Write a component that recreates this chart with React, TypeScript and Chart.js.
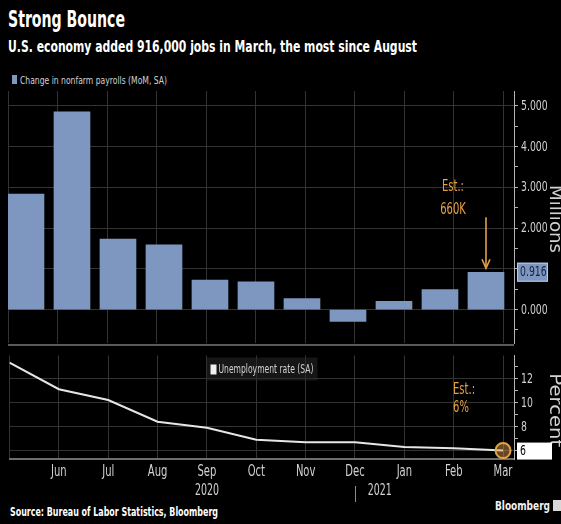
import React, { useEffect, useRef } from 'react';
import { Chart, registerables } from 'chart.js';

Chart.register(...registerables);

// ---------- text ----------
const title = 'Strong Bounce';
const subtitle = 'U.S. economy added 916,000 jobs in March, the most since August';
const payrollLabel = 'Change in nonfarm payrolls (MoM, SA)';
const unemploymentLabel = 'Unemployment rate (SA)';
const sourceText = 'Source: Bureau of Labor Statistics, Bloomberg';
const brandText = 'Bloomberg';
const payrollAxisTitle = 'Millions';
const unemploymentAxisTitle = 'Percent';

// ---------- data ----------
const months = ['May', 'Jun', 'Jul', 'Aug', 'Sep', 'Oct', 'Nov', 'Dec', 'Jan', 'Feb', 'Mar'];
const payrolls = [2.83, 4.85, 1.73, 1.59, 0.72, 0.68, 0.27, -0.29, 0.2, 0.49, 0.916];
const unemployment = [13.3, 11.1, 10.2, 8.4, 7.9, 6.9, 6.7, 6.7, 6.3, 6.2, 6.0];
const payrollTicks = [-0.5, 0, 0.5, 1, 1.5, 2, 2.5, 3, 3.5, 4, 4.5, 5];
const unemploymentTicks = [6, 7, 8, 9, 10, 11, 12, 13];
const yearLabels = ['2020', '2021'];
const yearPositions = [4, 7.5];
const yearBreakAt = 7;
const payrollEstimate = ['Est.:', '660K'];
const unemploymentEstimate = ['Est.:', '6%'];

// ---------- styles ----------
const NARROW = '"DejaVu Sans Condensed", "DejaVu Sans", sans-serif';
const WIDE = '"DejaVu Sans", "Noto Sans", sans-serif';
const BAR = '#7d97c1';
const GRID = '#333333';
const AXIS = '#b4b4b4';
const TXT = '#d2d2d2';
const ORANGE = '#e3a046';
const SQUEEZE = 0.74;

const lastIdx = payrolls.length - 1;

const payrollTickLabel = (n: number) => {
  if (!Number.isInteger(n)) return '';
  if (Math.abs(n - payrolls[lastIdx]) < 0.3) return '';
  return n.toFixed(3);
};
const unemploymentTickLabel = (n: number) => {
  if (n % 2 !== 0) return '';
  if (Math.abs(n - unemployment[lastIdx]) < 1) return '';
  return String(n);
};

const noPad = (s: any) => {
  s.paddingTop = 0;
  s.paddingBottom = 0;
  s.paddingLeft = 0;
  s.paddingRight = 0;
};

function squeezed(ctx: CanvasRenderingContext2D, text: string, x: number, y: number, factor = SQUEEZE) {
  if (!text) return;
  const w = ctx.measureText(text).width;
  ctx.fillText(text, x, y, w * factor);
}

function axisTitle(ctx: CanvasRenderingContext2D, text: string, cx: number, cy: number, length: number) {
  ctx.save();
  ctx.translate(cx, cy);
  ctx.rotate(Math.PI / 2);
  ctx.font = `17px ${WIDE}`;
  const w = ctx.measureText(text).width;
  ctx.scale(length / w, 1);
  ctx.fillStyle = TXT;
  ctx.textAlign = 'center';
  ctx.textBaseline = 'middle';
  ctx.fillText(text, 0, 0);
  ctx.restore();
}

function yTickLabels(ctx: CanvasRenderingContext2D, scale: any, fmt: (n: number) => string) {
  ctx.save();
  ctx.fillStyle = TXT;
  ctx.font = `14px ${NARROW}`;
  ctx.textAlign = 'left';
  ctx.textBaseline = 'middle';
  scale.ticks.forEach((t: any) => {
    squeezed(ctx, fmt(t.value), scale.left + 7, scale.getPixelForValue(t.value) + 0.5);
  });
  ctx.restore();
}

const topOverlay = {
  id: 'topOverlay',
  afterDraw(chart: any) {
    const { ctx, chartArea, scales } = chart;
    const bar = chart.getDatasetMeta(0).data[lastIdx];
    const lastVal = payrolls[lastIdx];
    const y = scales.y.getPixelForValue(lastVal);
    yTickLabels(ctx, scales.y, payrollTickLabel);
    axisTitle(ctx, payrollAxisTitle, 554, (chartArea.top + chartArea.bottom) / 2 + 2, 68);
    ctx.save();
    // arrow
    ctx.strokeStyle = ORANGE;
    ctx.lineWidth = 1.6;
    ctx.beginPath();
    ctx.moveTo(bar.x, bar.y - 55);
    ctx.lineTo(bar.x, bar.y - 5);
    ctx.stroke();
    ctx.beginPath();
    ctx.moveTo(bar.x - 4, bar.y - 13);
    ctx.lineTo(bar.x, bar.y - 4);
    ctx.lineTo(bar.x + 4, bar.y - 13);
    ctx.stroke();
    // estimate text
    ctx.fillStyle = ORANGE;
    ctx.font = `15px ${NARROW}`;
    ctx.textAlign = 'center';
    ctx.textBaseline = 'middle';
    payrollEstimate.forEach((t, k) => squeezed(ctx, t, bar.x - 33, bar.y - 85 + k * 23));
    // last value box
    const bx = chartArea.right + 3;
    ctx.fillStyle = BAR;
    ctx.fillRect(bx, y - 9.5, 31, 19);
    ctx.strokeStyle = '#b9cae6';
    ctx.lineWidth = 1;
    ctx.strokeRect(bx + 0.5, y - 9, 30, 18);
    ctx.fillStyle = '#14223d';
    ctx.textAlign = 'left';
    ctx.font = `14px ${NARROW}`;
    squeezed(ctx, lastVal.toFixed(3), bx + 3, y + 0.5);
    ctx.restore();
  },
};

const bottomOverlay = {
  id: 'bottomOverlay',
  afterDraw(chart: any) {
    const { ctx, chartArea, scales } = chart;
    const pt = chart.getDatasetMeta(0).data[lastIdx];
    const lastVal = unemployment[lastIdx];
    const y = scales.y.getPixelForValue(lastVal);
    yTickLabels(ctx, scales.y, unemploymentTickLabel);
    axisTitle(ctx, unemploymentAxisTitle, 554, (chartArea.top + chartArea.bottom) / 2 + 3, 74);
    ctx.save();
    // month labels
    ctx.fillStyle = TXT;
    ctx.font = `15px ${NARROW}`;
    ctx.textAlign = 'center';
    ctx.textBaseline = 'middle';
    scales.x.ticks.forEach((t: any) => {
      const label = t.value === 0 ? '' : months[t.value];
      squeezed(ctx, label, scales.x.getPixelForValue(t.value), chartArea.bottom + 13.5);
    });
    // year labels
    yearLabels.forEach((t, k) =>
      squeezed(ctx, t, scales.x.getPixelForValue(yearPositions[k]), chartArea.bottom + 32, 0.7)
    );
    // year break mark
    const bxp = Math.round(scales.x.getPixelForValue(yearBreakAt)) + 0.5;
    ctx.strokeStyle = '#8a8a8a';
    ctx.lineWidth = 1;
    ctx.beginPath();
    ctx.moveTo(bxp, chartArea.bottom + 27);
    ctx.lineTo(bxp, chartArea.bottom + 43);
    ctx.stroke();
    // legend box inside plot
    const lx = chartArea.left + 197;
    const ly = chartArea.top + 2;
    ctx.fillStyle = 'rgba(40,40,40,0.55)';
    ctx.fillRect(lx, ly, 111, 23);
    ctx.fillStyle = '#f2f2f2';
    ctx.fillRect(lx + 4, ly + 7, 6, 10);
    ctx.fillStyle = TXT;
    ctx.font = `12px ${NARROW}`;
    ctx.textAlign = 'left';
    ctx.fillText(unemploymentLabel, lx + 12, ly + 12, 95);
    // estimate text
    ctx.fillStyle = ORANGE;
    ctx.font = `15px ${NARROW}`;
    unemploymentEstimate.forEach((t, k) => squeezed(ctx, t, pt.x - 50, pt.y - 60 + k * 18));
    // last value box
    const bx = chartArea.right + 3;
    ctx.fillStyle = '#ffffff';
    ctx.fillRect(bx, y - 8, 35, 17);
    ctx.fillStyle = '#000000';
    ctx.font = `14px ${NARROW}`;
    squeezed(ctx, String(lastVal), bx + 3, y + 0.5);
    ctx.restore();
  },
};

export default function App() {
  const topRef = useRef<HTMLCanvasElement>(null);
  const botRef = useRef<HTMLCanvasElement>(null);

  useEffect(() => {
    Chart.defaults.font.family = NARROW;
    const top = new Chart(topRef.current as HTMLCanvasElement, {
      type: 'bar',
      data: {
        datasets: [
          {
            label: payrollLabel,
            data: payrolls.map((v, i) => ({ x: i, y: v })),
            backgroundColor: BAR,
            barThickness: 36,
            xAxisID: 'x',
            yAxisID: 'y',
          },
        ],
      },
      options: {
        animation: false,
        responsive: false,
        maintainAspectRatio: false,
        layout: { padding: { left: 8, right: 0, top: 3, bottom: 1 } },
        plugins: { legend: { display: false }, tooltip: { enabled: false } },
        scales: {
          x: {
            type: 'linear',
            min: -0.391,
            max: 10.609,
            offset: false,
            display: false,
            grid: { offset: false },
          },
          xg: {
            type: 'linear',
            position: 'bottom',
            min: 0,
            max: 10.222,
            offset: false,
            afterBuildTicks: (s: any) => {
              s.ticks = months.map((_, i) => ({ value: i }));
            },
            ticks: { display: false, autoSkip: false },
            grid: { color: GRID, drawTicks: false, offset: false },
            border: { display: false },
            afterFit: (s: any) => {
              s.height = 0;
              noPad(s);
            },
          },
          y: {
            type: 'linear',
            position: 'right',
            min: -0.82,
            max: 5.36,
            afterBuildTicks: (s: any) => {
              s.ticks = payrollTicks.map((v) => ({ value: v }));
            },
            ticks: { display: false, autoSkip: false },
            grid: {
              color: (c: any) => (c.tick && Number.isInteger(c.tick.value) ? GRID : 'rgba(0,0,0,0)'),
              tickColor: AXIS,
              tickLength: 4,
              drawTicks: true,
            },
            border: { display: true, color: AXIS, width: 1 },
            afterFit: (s: any) => {
              s.width = 47;
              noPad(s);
            },
          },
        },
      },
      plugins: [topOverlay],
    } as any);

    const bot = new Chart(botRef.current as HTMLCanvasElement, {
      type: 'line',
      data: {
        datasets: [
          {
            label: unemploymentLabel,
            data: unemployment.map((v, i) => ({ x: i, y: v })),
            borderColor: '#e6e6e6',
            borderWidth: 2,
            tension: 0,
            pointRadius: (c: any) => (c.dataIndex === lastIdx ? 7.5 : 0),
            pointBorderColor: ORANGE,
            pointBorderWidth: 2,
            pointBackgroundColor: 'rgba(227,160,70,0.45)',
          },
        ],
      },
      options: {
        animation: false,
        responsive: false,
        maintainAspectRatio: false,
        layout: { padding: { left: 8, right: 0, top: 1, bottom: 0 } },
        plugins: { legend: { display: false }, tooltip: { enabled: false } },
        scales: {
          x: {
            type: 'linear',
            min: 0,
            max: 10.222,
            offset: false,
            afterBuildTicks: (s: any) => {
              s.ticks = months.map((_, i) => ({ value: i }));
            },
            ticks: { display: false, autoSkip: false },
            grid: { color: GRID, drawTicks: false },
            border: { display: true, color: '#6e6e6e', width: 2 },
            afterFit: (s: any) => {
              s.height = 65;
              noPad(s);
            },
          },
          y: {
            type: 'linear',
            position: 'right',
            min: 5.3,
            max: 13.9,
            afterBuildTicks: (s: any) => {
              s.ticks = unemploymentTicks.map((v) => ({ value: v }));
            },
            ticks: { display: false, autoSkip: false },
            grid: {
              color: (c: any) => (c.tick && c.tick.value % 2 === 0 ? GRID : 'rgba(0,0,0,0)'),
              tickColor: AXIS,
              tickLength: 4,
              drawTicks: true,
            },
            border: { display: true, color: AXIS, width: 1 },
            afterFit: (s: any) => {
              s.width = 47;
              noPad(s);
            },
          },
        },
      },
      plugins: [bottomOverlay],
    } as any);

    return () => {
      top.destroy();
      bot.destroy();
    };
  }, []);

  return (
    <div
      style={{
        position: 'absolute',
        left: 0,
        top: 0,
        width: 561,
        height: 524,
        background: '#000',
        overflow: 'hidden',
      }}
    >
      <svg width={561} height={524} style={{ position: 'absolute', left: 0, top: 0 }}>
        <text x={8} y={27} fontFamily={NARROW} fontWeight="bold" fontSize={23} fill="#ffffff" textLength={117} lengthAdjust="spacingAndGlyphs">
          {title}
        </text>
        <text x={8} y={52} fontFamily={NARROW} fontWeight="bold" fontSize={16} fill="#ffffff" textLength={409} lengthAdjust="spacingAndGlyphs">
          {subtitle}
        </text>
        <rect x={12} y={75} width={5} height={9} fill={BAR} />
        <text x={20} y={84} fontFamily={NARROW} fontSize={11} fill={TXT} textLength={147} lengthAdjust="spacingAndGlyphs">
          {payrollLabel}
        </text>
        <text x={10} y={516} fontFamily={NARROW} fontWeight="bold" fontSize={12} fill="#ffffff" textLength={208} lengthAdjust="spacingAndGlyphs">
          {sourceText}
        </text>
        <text x={495} y={510} fontFamily={NARROW} fontWeight="bold" fontSize={13} fill="#f0f0f0" textLength={55} lengthAdjust="spacingAndGlyphs">
          {brandText}
        </text>
        <rect x={553} y={500} width={8} height={11} fill="#d8d8d8" />
      </svg>
      <div style={{ position: 'absolute', left: 8, top: 344, width: 506, height: 2, background: '#5a5a5a' }} />
      <canvas ref={topRef} width={561} height={256} style={{ position: 'absolute', left: 0, top: 88 }} />
      <canvas ref={botRef} width={561} height={178} style={{ position: 'absolute', left: 0, top: 346 }} />
    </div>
  );
}
